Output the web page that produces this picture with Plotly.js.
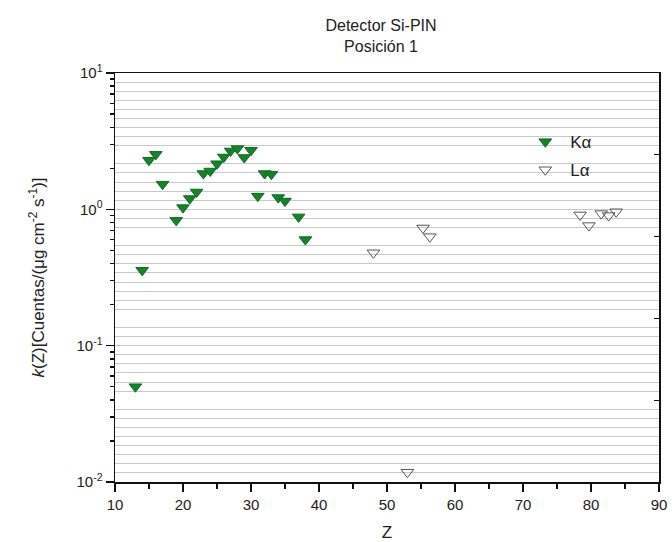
<!DOCTYPE html>
<html>
<head>
<meta charset="utf-8">
<script src="https://cdn.plot.ly/plotly-3.0.1.min.js"></script>
<style>body{margin:0;padding:0;background:#fff}#chart{width:672px;height:542px}</style>
</head>
<body>
<div id="chart"></div>
<script>
// Kα series
var kaZ = [13, 14, 15, 16, 17, 19, 20, 21, 22, 23, 24, 25, 26, 27, 28, 29, 30, 31, 32, 33, 34, 35, 37, 38];
var kaK = [0.050, 0.357, 2.29, 2.53, 1.53, 0.83, 1.03, 1.20, 1.34, 1.83, 1.91, 2.16, 2.42, 2.68, 2.79, 2.40, 2.71, 1.25, 1.83, 1.81, 1.22, 1.15, 0.88, 0.60];
// Lα series
var laZ = [48, 53, 55.3, 56.3, 78.4, 79.7, 81.5, 82.6, 83.7];
var laK = [0.48, 0.0118, 0.73, 0.63, 0.91, 0.76, 0.93, 0.90, 0.96];
// axis labels
var yTickVals = [0.01, 0.1, 1, 10];
var yTickText = ['10<sup>-2</sup>', '10<sup>-1</sup>', '10<sup>0</sup>', '10<sup>1</sup>'];
var xTickVals = [10, 20, 30, 40, 50, 60, 70, 80, 90];

var minorLog = [];
for (var d = -2; d < 1; d++) { for (var m = 2; m <= 9; m++) { minorLog.push(m * Math.pow(10, d)); } }

var FONT = 'Arial, "Liberation Sans", sans-serif';

var traces = [
  {x: kaZ, y: kaK, type: 'scatter', mode: 'markers', name: 'K\u03b1', legendgroup: 'a',
   marker: {symbol: 'triangle-down', size: 11, color: '#17812c', line: {color: '#0f6b22', width: 1}}},
  {x: laZ, y: laK, type: 'scatter', mode: 'markers', name: 'L\u03b1', legendgroup: 'b',
   marker: {symbol: 'triangle-down-open', size: 11, color: '#555555', line: {width: 1}}}
];

var layout = {
  width: 672, height: 542,
  margin: {l: 115, r: 13, t: 73, b: 60},
  paper_bgcolor: '#ffffff', plot_bgcolor: '#ffffff',
  font: {family: FONT, color: '#222', size: 15},
  showlegend: true,
  title: {text: 'Detector Si-PIN<br>Posición 1', font: {family: FONT, size: 16, color: '#222'},
          x: 0.567, xanchor: 'center', xref: 'container', y: 0.942, yanchor: 'top', yref: 'container'},
  legend: {x: 0.745, y: 0.875, xanchor: 'left', yanchor: 'top', bgcolor: 'rgba(0,0,0,0)', itemwidth: 40,
           font: {family: FONT, size: 17, color: '#222'}, tracegroupgap: 3, traceorder: 'grouped'},
  xaxis: {range: [10, 90], tickmode: 'array', tickvals: xTickVals, ticks: 'outside', ticklen: 8,
          tickwidth: 1.5, tickcolor: '#111', showline: true, linecolor: '#111', linewidth: 1.5,
          mirror: true, showgrid: false, zeroline: false,
          minor: {tickmode: 'linear', tick0: 15, dtick: 10, ticks: 'outside', ticklen: 5, tickcolor: '#111', showgrid: false},
          tickfont: {family: FONT, size: 15, color: '#222'},
          title: {text: 'Z', font: {family: FONT, size: 17, color: '#222'}, standoff: 15}},
  yaxis: {type: 'log', range: [-2, 1], tickmode: 'array', tickvals: yTickVals, ticktext: yTickText,
          ticks: 'outside', ticklen: 8, tickwidth: 1.5, tickcolor: '#111', showline: true,
          linecolor: '#111', linewidth: 1.5, mirror: true, showgrid: false, zeroline: false,
          minor: {tickmode: 'array', tickvals: minorLog, ticks: 'outside', ticklen: 4, tickcolor: '#111', showgrid: false},
          tickfont: {family: FONT, size: 15, color: '#222'},
          title: {text: '<i>k</i>(Z)[Cuentas/(\u03bcg cm<sup>-2</sup> s<sup>-1</sup>)]',
                  font: {family: FONT, size: 17, color: '#222'}, standoff: 27}},
  yaxis2: {overlaying: 'y', side: 'right', range: [0, 45], tickmode: 'linear', tick0: 0, dtick: 9,
           ticks: 'inside', ticklen: 5, tickcolor: '#111', showticklabels: false, showgrid: false,
           zeroline: false, showline: false, fixedrange: true,
           minor: {tickmode: 'linear', tick0: 0, dtick: 1, ticks: '', showgrid: true, gridcolor: '#c8c8c8', gridwidth: 1}}
};

// invisible helper trace so the right-hand grid axis is drawn
traces.unshift({x: [10], y: [0], yaxis: 'y2', type: 'scatter', mode: 'markers', showlegend: false,
                hoverinfo: 'skip', marker: {opacity: 0, size: 1}});

Plotly.newPlot('chart', traces, layout, {displayModeBar: false, staticPlot: true});
</script>
</body>
</html>
